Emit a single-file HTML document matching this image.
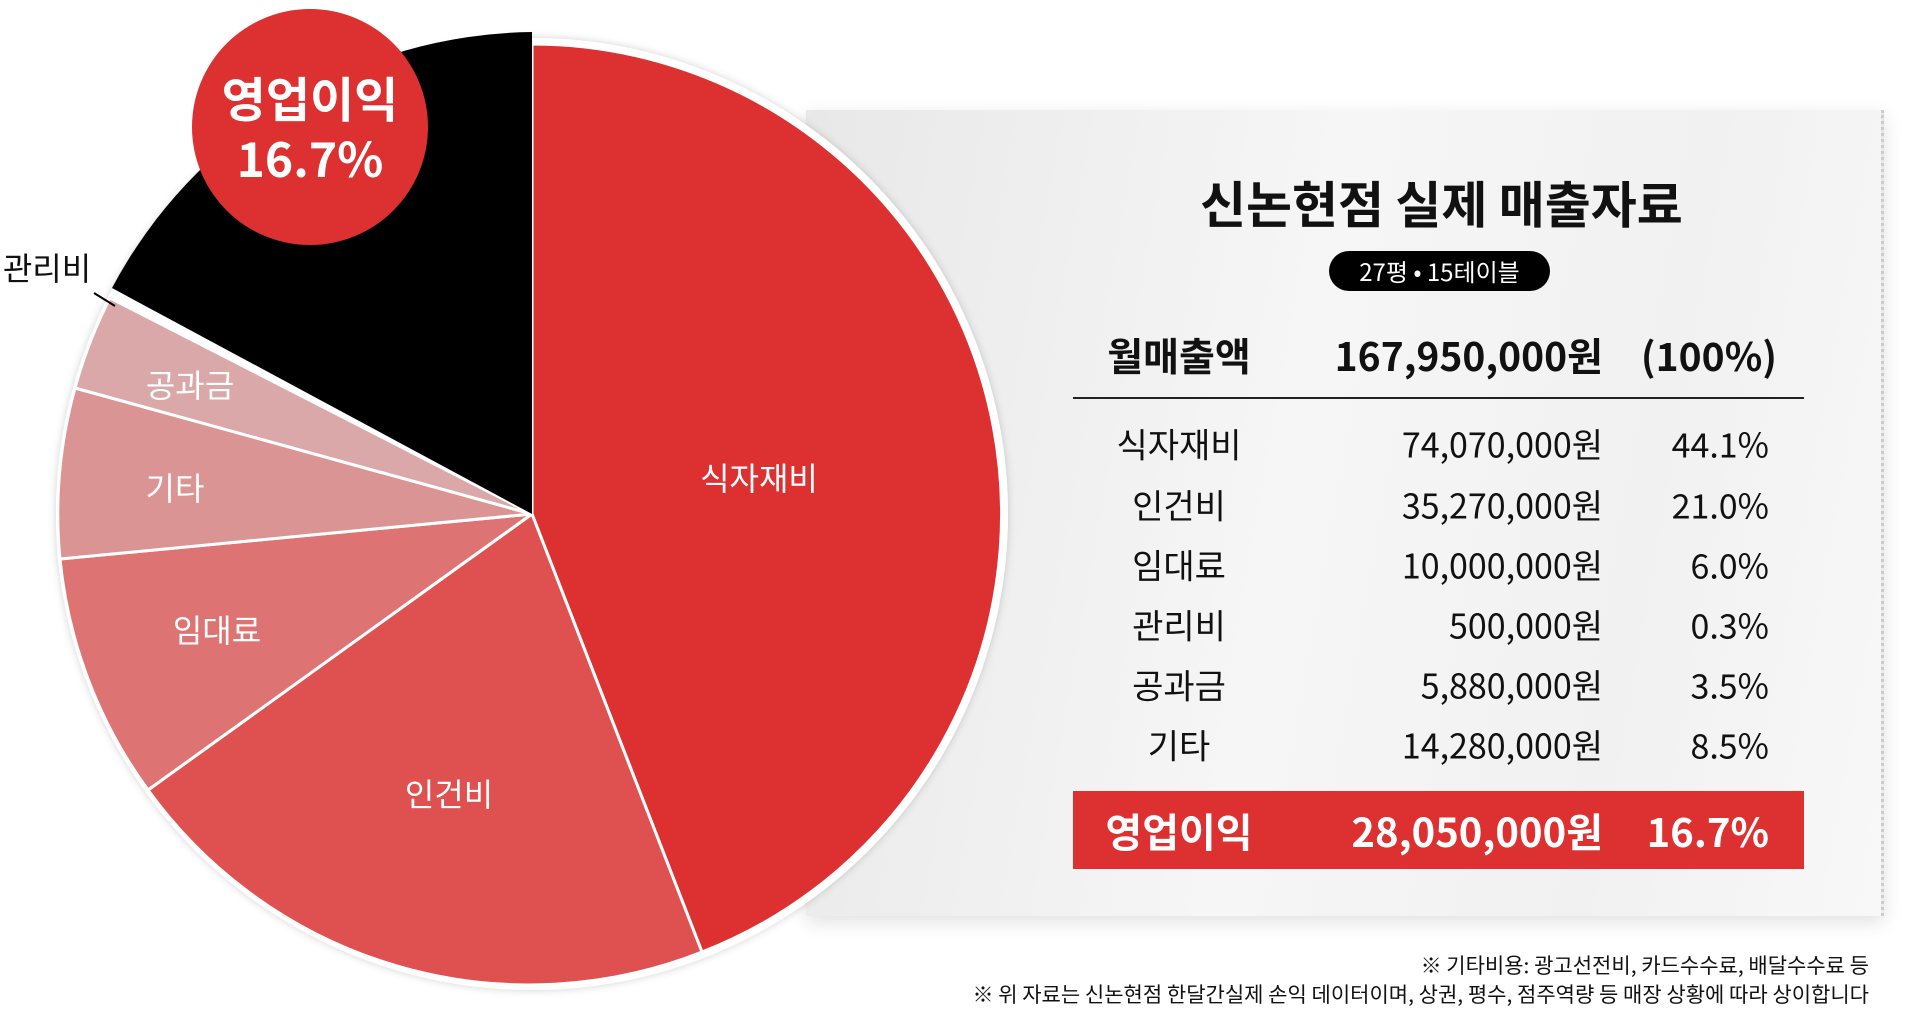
<!DOCTYPE html>
<html><head><meta charset="utf-8"><style>
html,body{margin:0;padding:0;background:#fff;}
body{width:1919px;height:1028px;position:relative;overflow:hidden;font-family:"Noto Sans CJK KR","Liberation Sans",sans-serif;}
.panel{position:absolute;left:806px;top:110px;width:1075px;height:806px;background:linear-gradient(100deg,#e8e8e8 0%,#f6f6f6 45%,#f1f1f1 75%,#f8f8f8 100%);box-shadow:0 6px 18px rgba(0,0,0,0.12);border-right:3px dotted #ccc;}
.t{position:absolute;white-space:nowrap;color:#111;}
.lab{position:absolute;width:200px;text-align:center;transform:translate(-100px,-50%);font-size:34px;color:#111;}
.amt{position:absolute;right:316px;transform:translateY(-50%);font-size:34px;}
.pct{position:absolute;right:150px;transform:translateY(-50%);font-size:34px;}
.pl{position:absolute;color:#fff;font-size:32px;transform:translate(-50%,-50%);white-space:nowrap;}
</style></head><body>
<div class="panel"></div>
<svg style="position:absolute;left:0;top:0" width="1919" height="1028">
<defs><filter id="sh" x="-10%" y="-10%" width="120%" height="120%"><feDropShadow dx="0" dy="0" stdDeviation="4" flood-color="#000" flood-opacity="0.18"/></filter></defs>
<circle cx="532" cy="514" r="476" fill="#fff" filter="url(#sh)"/>
<g stroke="#fff" stroke-width="3" stroke-linejoin="round">
<path d="M532 514 L532 44 A470 470 0 0 1 702 952 Z" fill="#dd3031"/>
<path d="M532 514 L702 952 A470 470 0 0 1 148 790 Z" fill="#df5151"/>
<path d="M532 514 L148 790 A470 470 0 0 1 60 559 Z" fill="#dd7373"/>
<path d="M532 514 L60 559 A470 470 0 0 1 75 388 Z" fill="#db9494"/>
<path d="M532 514 L75 388 A470 470 0 0 1 110 298 Z" fill="#daa8a8"/>
</g>
<path d="M532 514 L112 288 A482 482 0 0 1 532 32 Z" fill="#000"/>
<line x1="94" y1="293" x2="115" y2="306" stroke="#000" stroke-width="2"/>
<circle cx="310" cy="127" r="118" fill="#dd3031"/>
</svg>
<div class="pl" style="left:310px;top:96px;font-size:48px;font-weight:bold;">영업이익</div>
<div class="pl" style="left:310px;top:156px;font-size:48px;font-weight:bold;">16.7%</div>
<div class="pl" style="left:759px;top:477px;">식자재비</div>
<div class="pl" style="left:449px;top:793px;">인건비</div>
<div class="pl" style="left:217px;top:629px;">임대료</div>
<div class="pl" style="left:175px;top:487px;">기타</div>
<div class="pl" style="left:190px;top:384px;">공과금</div>
<div class="pl" style="left:47px;top:267px;color:#111;">관리비</div>

<div class="t" style="left:1200px;width:480px;text-align:center;top:202px;transform:translateY(-50%);font-size:50px;font-weight:bold;">신논현점 실제 매출자료</div>
<div class="t" style="left:1329px;top:251px;width:221px;height:40px;line-height:40px;border-radius:20px;background:#000;color:#fff;text-align:center;font-size:24px;">27평 • 15테이블</div>
<div class="t" style="left:1079px;width:200px;text-align:center;top:355px;transform:translateY(-50%);font-size:39px;font-weight:bold;">월매출액</div>
<div class="t" style="right:316px;top:355px;transform:translateY(-50%);font-size:39px;font-weight:bold;">167,950,000원</div>
<div class="t" style="right:142px;top:355px;transform:translateY(-50%);font-size:39px;font-weight:bold;">(100%)</div>
<div style="position:absolute;left:1073px;top:397px;width:731px;height:2px;background:#222"></div>

<div class="lab" style="left:1179px;top:443px">식자재비</div><div class="t amt" style="top:443px">74,070,000원</div><div class="t pct" style="top:443px">44.1%</div>
<div class="lab" style="left:1179px;top:504px">인건비</div><div class="t amt" style="top:504px">35,270,000원</div><div class="t pct" style="top:504px">21.0%</div>
<div class="lab" style="left:1179px;top:564px">임대료</div><div class="t amt" style="top:564px">10,000,000원</div><div class="t pct" style="top:564px">6.0%</div>
<div class="lab" style="left:1179px;top:624px">관리비</div><div class="t amt" style="top:624px">500,000원</div><div class="t pct" style="top:624px">0.3%</div>
<div class="lab" style="left:1179px;top:684px">공과금</div><div class="t amt" style="top:684px">5,880,000원</div><div class="t pct" style="top:684px">3.5%</div>
<div class="lab" style="left:1179px;top:744px">기타</div><div class="t amt" style="top:744px">14,280,000원</div><div class="t pct" style="top:744px">8.5%</div>

<div style="position:absolute;left:1073px;top:791px;width:731px;height:78px;background:#dd3031"></div>
<div class="lab" style="left:1179px;top:830px;color:#fff;font-size:40px;font-weight:bold;">영업이익</div>
<div class="t amt" style="top:830px;color:#fff;font-size:40px;font-weight:bold;">28,050,000원</div>
<div class="t pct" style="top:830px;color:#fff;font-size:40px;font-weight:bold;">16.7%</div>

<div class="t" style="right:50px;top:965px;transform:translateY(-50%);font-size:21px;">※ 기타비용: 광고선전비, 카드수수료, 배달수수료 등</div>
<div class="t" style="right:50px;top:994px;transform:translateY(-50%);font-size:21px;">※ 위 자료는 신논현점 한달간실제 손익 데이터이며, 상권, 평수, 점주역량 등 매장 상황에 따라 상이합니다</div>
</body></html>
